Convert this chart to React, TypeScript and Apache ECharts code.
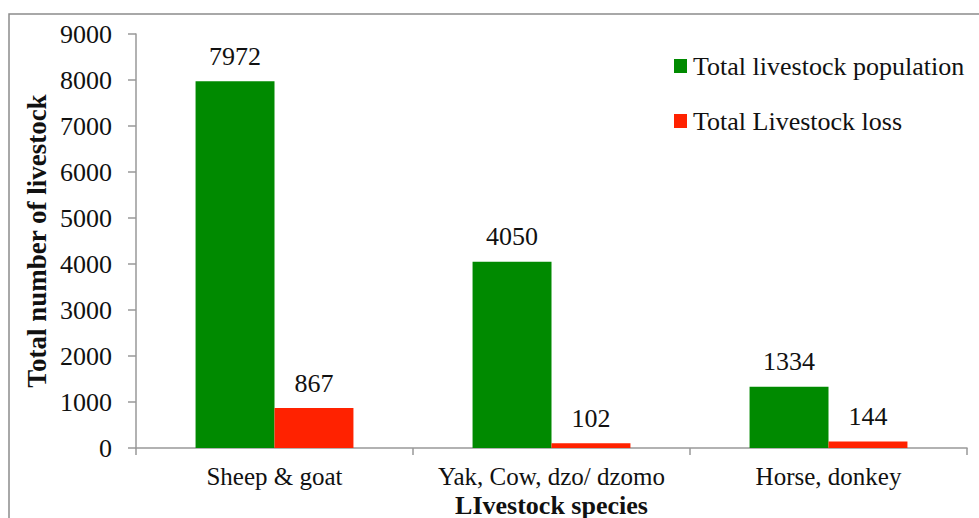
import React, { useEffect, useRef } from "react";
import * as echarts from "echarts";

const categories = ["Sheep & goat", "Yak, Cow, dzo/ dzomo", "Horse, donkey"];
const populationValues = [7972, 4050, 1334];
const lossValues = [867, 102, 144];
const seriesNames = ["Total livestock population", "Total Livestock loss"];

const FONT = "'Liberation Serif', 'DejaVu Serif', serif";

export default function App() {
  const ref = useRef<HTMLDivElement>(null);
  useEffect(() => {
    document.body.style.margin = "0";
    const chart = echarts.init(ref.current!, null, { renderer: "svg" });
    const labelStyle = {
      show: true,
      position: "top" as const,
      distance: 12,
      fontFamily: FONT,
      fontSize: 26,
      color: "#111",
    };
    chart.setOption({
      animation: false,
      backgroundColor: "#fff",
      textStyle: { fontFamily: FONT },
      graphic: [
        {
          type: "rect",
          shape: { x: 9, y: 14, width: 1100, height: 700 },
          style: { fill: "none", stroke: "#8c8c8c", lineWidth: 1.5 },
          z: -1,
        },
      ],
      grid: { left: 136, right: 12, top: 34, bottom: 70, containLabel: false, outerBoundsMode: "none" },
      legend: {
        orient: "vertical",
        left: 669,
        top: 48,
        itemWidth: 13,
        itemHeight: 14,
        itemGap: 29,
        icon: "rect",
        textStyle: { fontFamily: FONT, fontSize: 26, color: "#111", padding: [0, 0, 0, 1] },
        data: seriesNames,
      },
      xAxis: {
        type: "category",
        data: categories,
        name: "LIvestock species",
        nameLocation: "middle",
        nameGap: 44,
        nameMoveOverlap: false,
        nameTextStyle: { fontFamily: FONT, fontSize: 26, lineHeight: 26, fontWeight: "bold", color: "#111" },
        axisLine: { lineStyle: { color: "#999", width: 1.5 } },
        axisTick: { show: true, length: 7, alignWithLabel: false, lineStyle: { color: "#999", width: 1.5 } },
        axisLabel: {
          fontFamily: FONT,
          fontSize: 25,
          lineHeight: 25,
          color: "#111",
          margin: 16,
          interval: 0,
          hideOverlap: false,
        },
      },
      yAxis: {
        type: "value",
        min: 0,
        max: 9000,
        interval: 1000,
        name: "Total number of livestock",
        nameLocation: "middle",
        nameGap: 86,
        nameMoveOverlap: false,
        nameTextStyle: { fontFamily: FONT, fontSize: 27, fontWeight: "bold", color: "#111" },
        axisLine: { show: true, lineStyle: { color: "#999", width: 1.5 } },
        axisTick: { show: true, length: 8, lineStyle: { color: "#999", width: 1.5 } },
        splitLine: { show: false },
        axisLabel: {
          fontFamily: FONT,
          fontSize: 26,
          color: "#111",
          margin: 24,
          formatter: (v: number) => String(v),
        },
      },
      series: [
        {
          name: seriesNames[0],
          type: "bar",
          data: populationValues,
          itemStyle: { color: "#008a00" },
          barGap: "0%",
          barCategoryGap: "43%",
          label: labelStyle,
        },
        {
          name: seriesNames[1],
          type: "bar",
          data: lossValues,
          itemStyle: { color: "#ff2200" },
          barGap: "0%",
          barCategoryGap: "43%",
          label: labelStyle,
        },
      ],
    });
    return () => chart.dispose();
  }, []);
  return <div ref={ref} style={{ width: 979, height: 518 }} />;
}
